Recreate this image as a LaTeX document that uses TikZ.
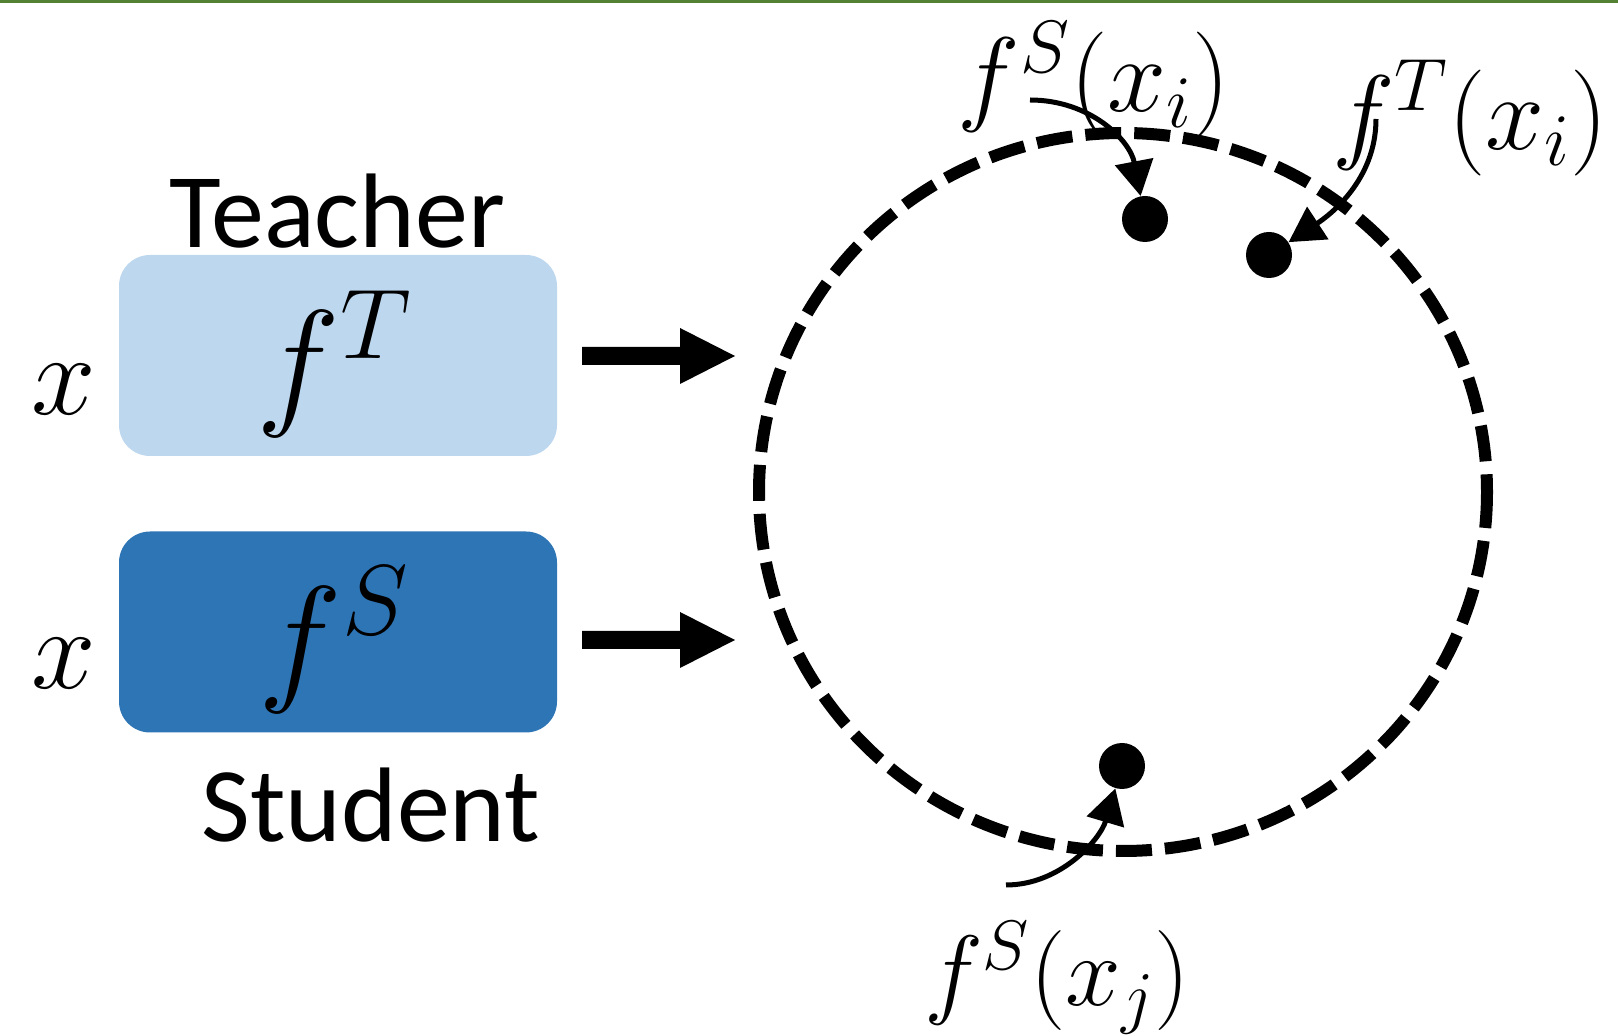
\RequirePackage{fix-cm}
\documentclass[tikz,border=0pt]{standalone}
\usepackage{fontspec}
\setmainfont{Carlito}
\usetikzlibrary{arrows.meta}
\definecolor{tlight}{HTML}{BDD7EE}
\definecolor{sdark}{HTML}{2E75B6}
\definecolor{topgreen}{HTML}{548235}
\tikzset{
  netbox/.style={rounded corners=15.5pt, minimum width=219pt, minimum height=100.5pt, inner sep=0pt},
  dotnode/.style={circle, fill=black, minimum size=23pt, inner sep=0pt},
  lbl/.style={inner sep=0pt, font=\fontsize{53}{53}\selectfont},
  xlbl/.style={inner sep=0pt, font=\fontsize{58}{58}\selectfont},
  flbl/.style={inner sep=0pt, font=\fontsize{71}{71}\selectfont},
  word/.style={inner sep=0pt, font=\fontsize{53}{53}\selectfont},
  pointer/.style={line width=2.5pt, -{Triangle[length=17.5pt,width=19pt]}},
  blockarrow/.style={fill=black},
  space/.style={line width=6pt, dash pattern=on 18pt off 6.5pt}
}
\begin{document}
\begin{tikzpicture}[x=0.5pt,y=-0.5pt]
\useasboundingbox (0,0) rectangle (1618,1036);
\fill[topgreen] (0,0) rectangle (1618,3);

% boxes
\node[netbox, fill=tlight] (teacher) at (338,355.5) {};
\node[netbox, fill=sdark] (student) at (338,632) {};
\node[flbl] (fT) at (334,364) {$f^T$};
\node[flbl] (fS) at (334,640) {$f^S$};
\node[word] (tword) at (337,211) {Teacher};
\node[word] (sword) at (371,805) {Student};
\node[xlbl] (x1) at (64,390) {$x$};
\node[xlbl] (x2) at (64,664) {$x$};

% block arrows
\fill[blockarrow] (582,347) -- (680,347) -- (680,328) -- (735,356) -- (680,384) -- (680,365) -- (582,365) -- cycle;
\fill[blockarrow] (582,631) -- (680,631) -- (680,612) -- (735,640) -- (680,668) -- (680,649) -- (582,649) -- cycle;

% embedding space
\draw[space] (1123,492) ellipse [x radius=364, y radius=359];

% points
\node[dotnode] (d1) at (1145,219) {};
\node[dotnode] (d2) at (1269,255) {};
\node[dotnode] (d3) at (1122,766) {};

% labels
\node[lbl] (l1) at (1094,80) {$f^S(x_i)$};
\node[lbl] (l2) at (1470,118) {$f^T(x_i)$};
\node[lbl, font=\fontsize{50}{50}\selectfont] (l3) at (1057,978) {$f^S(x_j)$};

% pointers
\coordinate (a1) at (1030,100);
\coordinate (a2) at (1376,119);
\coordinate (a3) at (1006,885);
\draw[pointer] (a1) .. controls (1090,100) and (1130,140) .. (d1);
\draw[pointer] (a2) .. controls (1376,180) and (1330,215) .. (d2);
\draw[pointer] (a3) .. controls (1060,885) and (1100,840) .. (d3);
\end{tikzpicture}
\end{document}
